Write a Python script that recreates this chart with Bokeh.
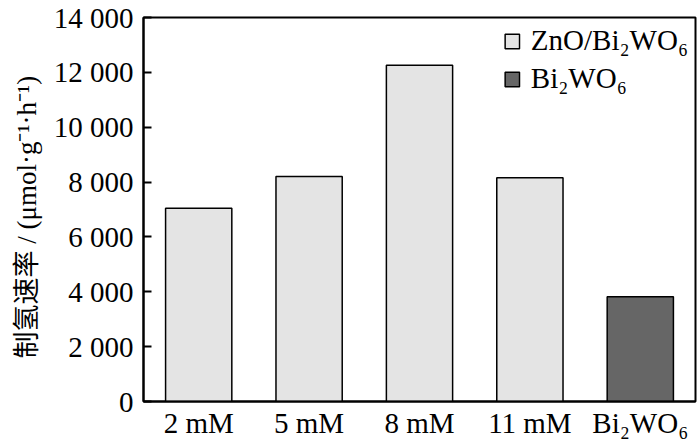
import math
from bokeh.plotting import figure
from bokeh.models import ColumnDataSource, FactorRange, Range1d, FixedTicker, Legend, Label
from bokeh.embed import file_html
from bokeh.resources import INLINE

# ---- data ----
categories = ["2 mM", "5 mM", "8 mM", "11 mM", "Bi₂WO₆"]
composite_cats = ["2 mM", "5 mM", "8 mM", "11 mM"]
composite_rates = [7050, 8200, 12260, 8160]
pure_cats = ["Bi₂WO₆"]
pure_rates = [3820]
y_ticks = [0, 2000, 4000, 6000, 8000, 10000, 12000, 14000]
y_tick_labels = ["0", "2 000", "4 000", "6 000", "8 000", "10 000", "12 000", "14 000"]
series_names = ["ZnO/Bi₂WO₆", "Bi₂WO₆"]
y_label = "制氢速率 / (μmol·g⁻¹·h⁻¹)"

FONT = "'Liberation Serif', serif"
LABEL_FONT = "'Liberation Serif', 'Noto Sans CJK SC', serif"

p = figure(
    width=700, height=446,
    x_range=FactorRange(factors=categories),
    y_range=Range1d(0, 14000),
    output_backend="svg", toolbar_location=None,
    min_border_left=143, min_border_right=5, min_border_top=17, min_border_bottom=45,
)

src_c = ColumnDataSource(dict(x=composite_cats, top=composite_rates))
src_p = ColumnDataSource(dict(x=pure_cats, top=pure_rates))

r1 = p.vbar(x="x", top="top", width=0.6, source=src_c,
            fill_color="#e4e4e4", line_color="black", line_width=1.5)
r2 = p.vbar(x="x", top="top", width=0.6, source=src_p,
            fill_color="#666666", line_color="black", line_width=1.5)

legend = Legend(items=[(series_names[0], [r1]), (series_names[1], [r2])],
                location="top_right")
legend.border_line_color = None
legend.background_fill_alpha = 0
legend.label_text_font = FONT
legend.label_text_font_size = "29px"
legend.label_text_color = "black"
legend.glyph_width = 18
legend.glyph_height = 18
legend.label_standoff = 10
legend.padding = 6
legend.margin = 7
legend.spacing = 5
p.add_layout(legend)

p.xgrid.grid_line_color = None
p.ygrid.grid_line_color = None
p.outline_line_color = "black"
p.outline_line_width = 2
p.outline_line_alpha = 1

# y axis
p.yaxis.ticker = FixedTicker(ticks=y_ticks)
p.yaxis.major_label_overrides = {t: l for t, l in zip(y_ticks, y_tick_labels)}
p.yaxis.major_tick_in = 8
p.yaxis.major_tick_out = 0
p.yaxis.minor_tick_line_color = None
p.yaxis.major_tick_line_width = 2
p.yaxis.axis_line_width = 2
p.yaxis.major_label_standoff = 10

# y axis title as a rotated label in the left panel
ylab = Label(x=6, y=43, x_units="screen", y_units="screen", text=y_label,
             angle=math.pi / 2, text_align="left", text_baseline="middle",
             text_font=LABEL_FONT, text_font_size="27px", text_color="black")
p.add_layout(ylab, "left")

# x axis
p.xaxis.major_tick_line_color = None
p.xaxis.minor_tick_line_color = None
p.xaxis.axis_line_width = 2
p.xaxis.major_label_standoff = -1

for ax in (p.xaxis, p.yaxis):
    ax.major_label_text_font = FONT
    ax.major_label_text_font_size = "29px"
    ax.major_label_text_color = "#000000"
    ax.axis_line_color = "#000000"

open("out.html", "w").write(file_html(p, INLINE))
